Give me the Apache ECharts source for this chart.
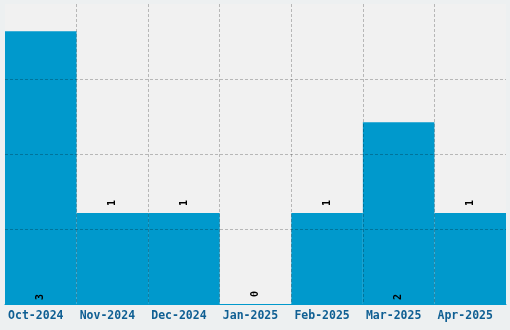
<!DOCTYPE html>
<html><head><meta charset="utf-8">
<script src="https://cdn.jsdelivr.net/npm/echarts@6/dist/echarts.min.js"></script>
<style>html,body{margin:0;padding:0;background:#edf0f1}#c{width:510px;height:330px}</style>
</head><body><div id="c"></div>
<script>
const categories = ['Oct-2024','Nov-2024','Dec-2024','Jan-2025','Feb-2025','Mar-2025','Apr-2025'];
const values = [3, 1, 1, 0, 1, 2, 1];
const labelInside = [true, false, false, false, false, true, false];

const g = 'rgba(0,0,0,0.24)';
const tr = 'rgba(0,0,0,0)';
const chart = echarts.init(document.getElementById('c'));
chart.setOption({
  backgroundColor: '#edf0f1',
  animation: false,
  grid: {left: 5, right: 4, top: 4, bottom: 26, show: true, backgroundColor: '#f1f1f1', borderWidth: 0},
  xAxis: {
    type: 'category', data: categories, zlevel: 1,
    axisLine: {show: true, lineStyle: {color: '#0099cc', width: 1}},
    axisTick: {show: false},
    axisLabel: {interval: 0, color: '#0f5f93', fontFamily: 'DejaVu Sans Mono', fontWeight: 'bold', fontSize: 11.5, margin: 6, padding: [0, 10, 0, 0]},
    splitLine: {show: true, interval: 0, lineStyle: {color: [tr, g, g, g, g, g, g, tr], type: [3, 2], width: 1}}
  },
  yAxis: {
    type: 'value', min: 0, max: 3.3, interval: 0.825, zlevel: 1,
    axisLabel: {show: false}, axisLine: {show: false}, axisTick: {show: false},
    splitLine: {show: true, lineStyle: {color: [tr, g, g, g, tr], type: [3, 2], width: 1}}
  },
  series: [{
    type: 'bar', z: 2, barCategoryGap: 0,
    itemStyle: {color: '#0099cc'},
    data: values.map((v, i) => ({
      value: v,
      label: {
        show: true, rotate: 90, align: 'left', verticalAlign: 'middle',
        position: labelInside[i] ? 'insideBottom' : 'top',
        distance: labelInside[i] ? 4 : 7,
        color: '#000', fontFamily: 'DejaVu Sans Mono', fontWeight: 'bold', fontSize: 10
      }
    }))
  }]
});
</script></body></html>
